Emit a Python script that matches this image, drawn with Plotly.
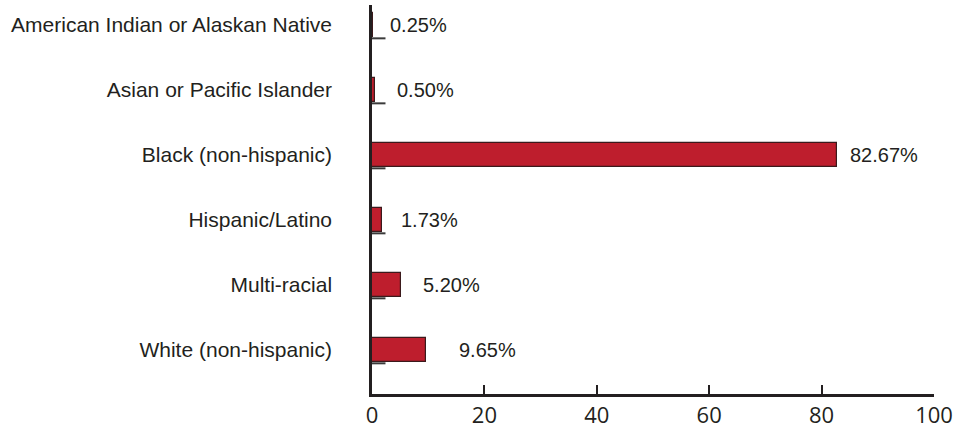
import plotly.graph_objects as go

# Race / ethnicity breakdown (percent of total)
categories = [
    "American Indian or Alaskan Native",
    "Asian or Pacific Islander",
    "Black (non-hispanic)",
    "Hispanic/Latino",
    "Multi-racial",
    "White (non-hispanic)",
]
percentages = [0.25, 0.50, 82.67, 1.73, 5.20, 9.65]
x_tick_values = [0, 20, 40, 60, 80, 100]

# Label placement / styling
label_gap_px = [15, 20, 11, 17, 20, 31]
BAR_FILL = "#be1e2d"
BAR_EDGE = "#3b1a1c"
INK = "#231f20"
LABEL_FONT = "Liberation Sans, Arial, sans-serif"
TICK_FONT = "Open Sans, sans-serif"
BAR_WIDTH = 0.37

positions = list(range(len(categories)))

fig = go.Figure()
fig.add_trace(
    go.Bar(
        x=percentages,
        y=positions,
        orientation="h",
        width=BAR_WIDTH,
        marker=dict(color=BAR_FILL, line=dict(color=BAR_EDGE, width=1.2)),
        hoverinfo="skip",
        showlegend=False,
    )
)

# Short shadow stub under the base of each bar
for pos in positions:
    fig.add_shape(
        type="line",
        xref="x", yref="y",
        x0=0, x1=2.4,
        y0=pos + BAR_WIDTH / 2 + 0.02, y1=pos + BAR_WIDTH / 2 + 0.02,
        line=dict(color="#3a3a3a", width=2),
        layer="above",
    )

# Value labels to the right of the bars
for pos, val, gap in zip(positions, percentages, label_gap_px):
    fig.add_annotation(
        x=val, y=pos,
        text=f"{val:.2f}%",
        showarrow=False,
        xanchor="left",
        yanchor="middle",
        xshift=gap,
        font=dict(family=LABEL_FONT, size=20, color=INK),
    )

fig.update_layout(
    width=956,
    height=428,
    margin=dict(l=372, r=22, t=5, b=34, autoexpand=False),
    paper_bgcolor="white",
    plot_bgcolor="white",
    bargap=0,
)

fig.update_xaxes(
    range=[0, 100],
    tickvals=x_tick_values,
    ticktext=[str(v) for v in x_tick_values],
    ticks="inside",
    ticklen=9,
    tickwidth=2,
    tickcolor=INK,
    showline=True,
    linecolor=INK,
    linewidth=2.5,
    showgrid=False,
    zeroline=False,
    automargin=False,
    tickfont=dict(family=TICK_FONT, size=22, color=INK),
    fixedrange=True,
)

fig.update_yaxes(
    range=[5.677, -0.308],
    tickvals=positions,
    ticktext=categories,
    ticks="",
    showline=True,
    linecolor=INK,
    linewidth=2.5,
    showgrid=False,
    zeroline=False,
    automargin=False,
    ticklabelstandoff=33,
    tickfont=dict(family=LABEL_FONT, size=21, color=INK),
    fixedrange=True,
)

fig.write_html("out.html")
